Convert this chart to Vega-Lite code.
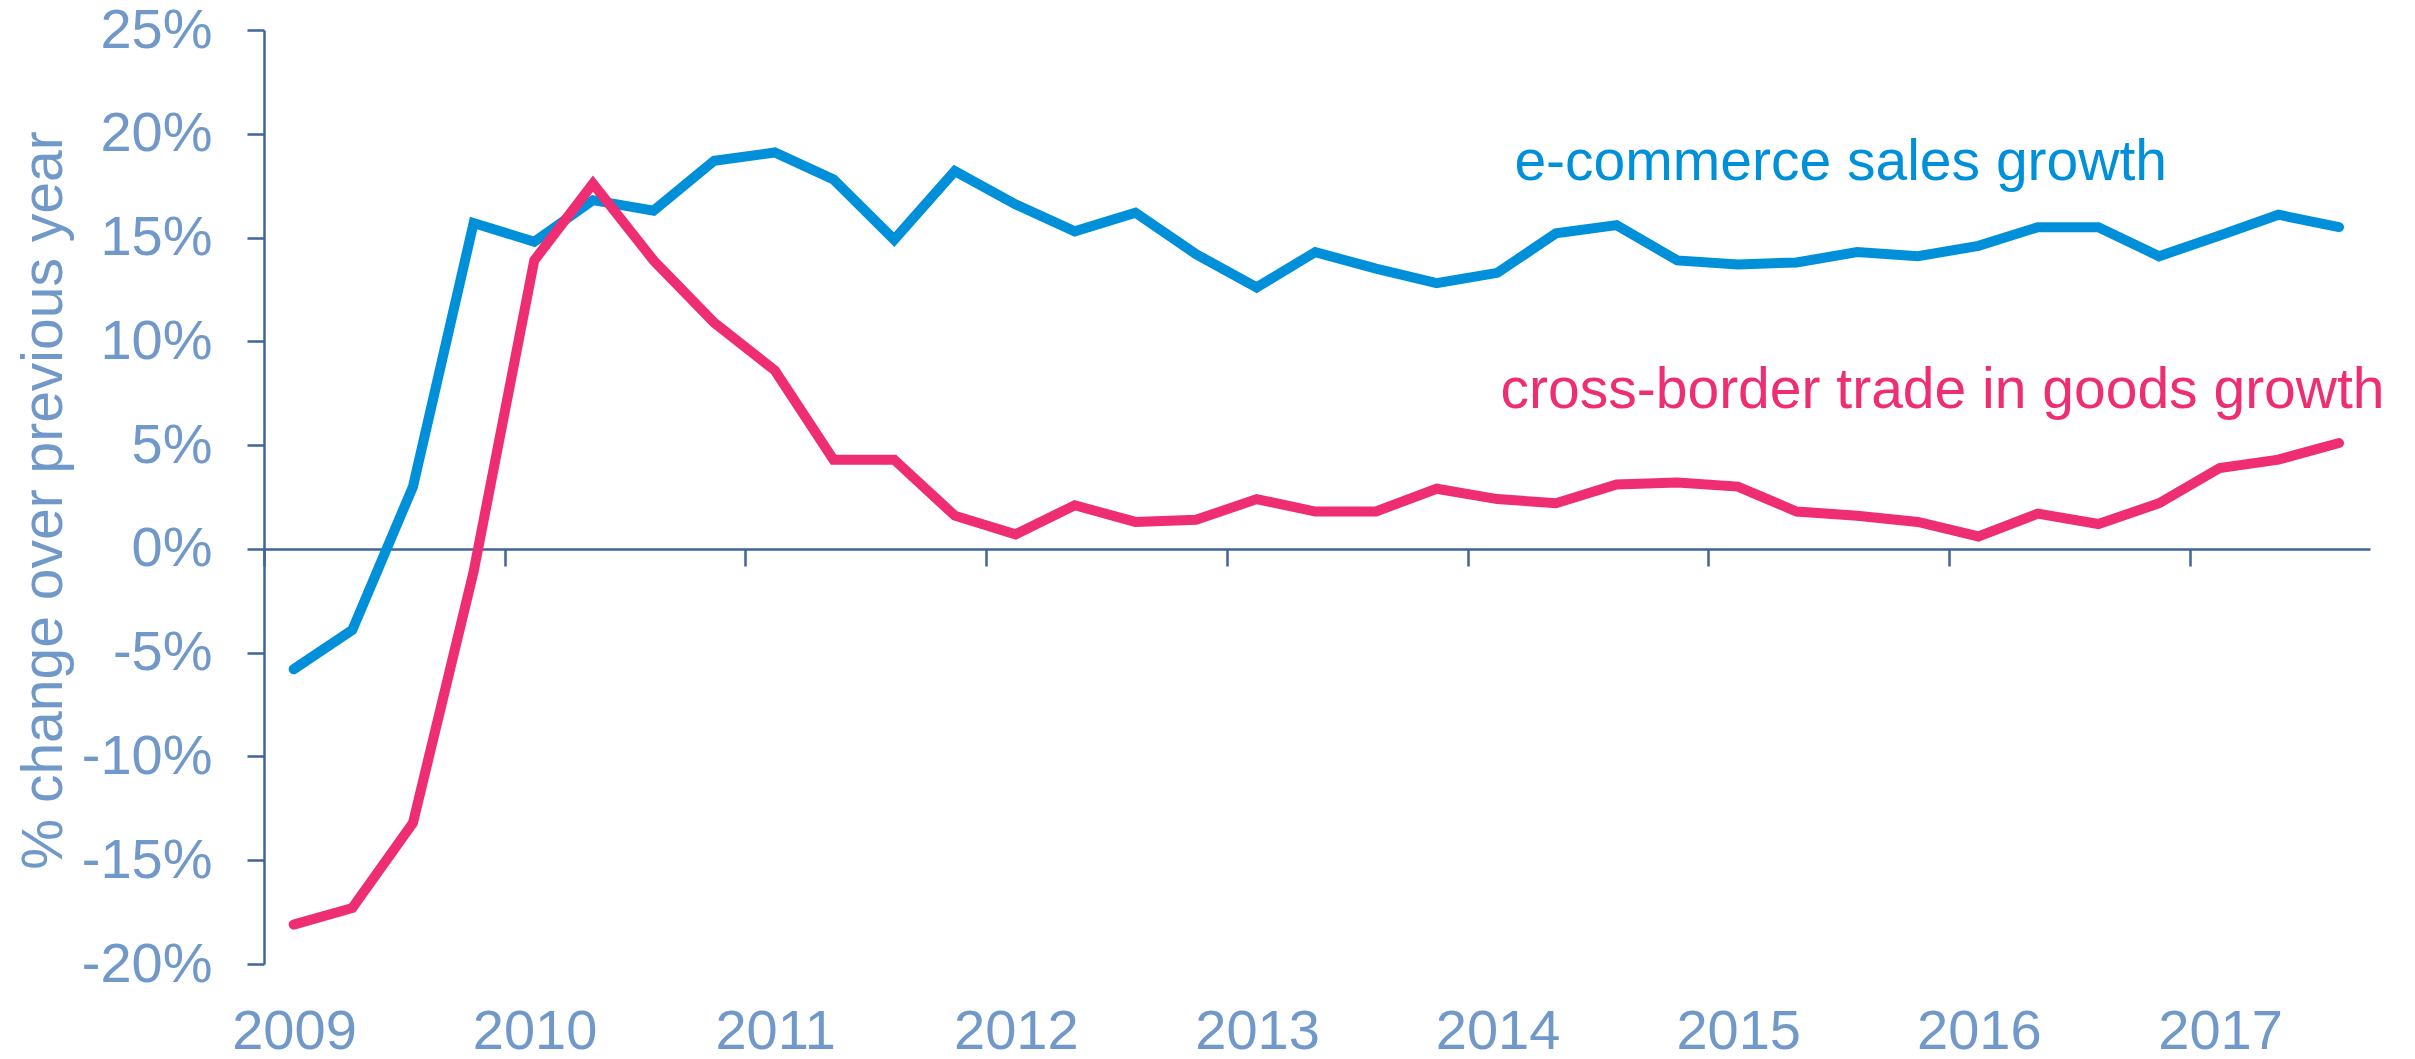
{
  "$schema": "https://vega.github.io/schema/vega-lite/v6.json",
  "width": 2106,
  "height": 934,
  "autosize": {"type": "none"},
  "padding": {"left": 264, "top": 30, "right": 45, "bottom": 95},
  "background": "white",
  "config": {"view": {"stroke": null}, "font": "Liberation Sans"},
  "datasets": {
    "series": [
      {"date": "2009-02-15", "series": "e-commerce sales growth", "value": -5.8},
      {"date": "2009-05-15", "series": "e-commerce sales growth", "value": -3.9},
      {"date": "2009-08-15", "series": "e-commerce sales growth", "value": 3.0},
      {"date": "2009-11-15", "series": "e-commerce sales growth", "value": 15.7},
      {"date": "2010-02-15", "series": "e-commerce sales growth", "value": 14.8},
      {"date": "2010-05-15", "series": "e-commerce sales growth", "value": 16.8},
      {"date": "2010-08-15", "series": "e-commerce sales growth", "value": 16.3},
      {"date": "2010-11-15", "series": "e-commerce sales growth", "value": 18.7},
      {"date": "2011-02-15", "series": "e-commerce sales growth", "value": 19.1},
      {"date": "2011-05-15", "series": "e-commerce sales growth", "value": 17.8},
      {"date": "2011-08-15", "series": "e-commerce sales growth", "value": 14.9},
      {"date": "2011-11-15", "series": "e-commerce sales growth", "value": 18.2},
      {"date": "2012-02-15", "series": "e-commerce sales growth", "value": 16.6},
      {"date": "2012-05-15", "series": "e-commerce sales growth", "value": 15.3},
      {"date": "2012-08-15", "series": "e-commerce sales growth", "value": 16.2},
      {"date": "2012-11-15", "series": "e-commerce sales growth", "value": 14.2},
      {"date": "2013-02-15", "series": "e-commerce sales growth", "value": 12.6},
      {"date": "2013-05-15", "series": "e-commerce sales growth", "value": 14.3},
      {"date": "2013-08-15", "series": "e-commerce sales growth", "value": 13.5},
      {"date": "2013-11-15", "series": "e-commerce sales growth", "value": 12.8},
      {"date": "2014-02-15", "series": "e-commerce sales growth", "value": 13.3},
      {"date": "2014-05-15", "series": "e-commerce sales growth", "value": 15.2},
      {"date": "2014-08-15", "series": "e-commerce sales growth", "value": 15.6},
      {"date": "2014-11-15", "series": "e-commerce sales growth", "value": 13.9},
      {"date": "2015-02-15", "series": "e-commerce sales growth", "value": 13.7},
      {"date": "2015-05-15", "series": "e-commerce sales growth", "value": 13.8},
      {"date": "2015-08-15", "series": "e-commerce sales growth", "value": 14.3},
      {"date": "2015-11-15", "series": "e-commerce sales growth", "value": 14.1},
      {"date": "2016-02-15", "series": "e-commerce sales growth", "value": 14.6},
      {"date": "2016-05-15", "series": "e-commerce sales growth", "value": 15.5},
      {"date": "2016-08-15", "series": "e-commerce sales growth", "value": 15.5},
      {"date": "2016-11-15", "series": "e-commerce sales growth", "value": 14.1},
      {"date": "2017-02-15", "series": "e-commerce sales growth", "value": 15.1},
      {"date": "2017-05-15", "series": "e-commerce sales growth", "value": 16.1},
      {"date": "2017-08-15", "series": "e-commerce sales growth", "value": 15.5},
      {"date": "2009-02-15", "series": "cross-border trade in goods growth", "value": -18.1},
      {"date": "2009-05-15", "series": "cross-border trade in goods growth", "value": -17.3},
      {"date": "2009-08-15", "series": "cross-border trade in goods growth", "value": -13.2},
      {"date": "2009-11-15", "series": "cross-border trade in goods growth", "value": -1.1},
      {"date": "2010-02-15", "series": "cross-border trade in goods growth", "value": 13.9},
      {"date": "2010-05-15", "series": "cross-border trade in goods growth", "value": 17.6},
      {"date": "2010-08-15", "series": "cross-border trade in goods growth", "value": 13.9},
      {"date": "2010-11-15", "series": "cross-border trade in goods growth", "value": 10.9},
      {"date": "2011-02-15", "series": "cross-border trade in goods growth", "value": 8.6},
      {"date": "2011-05-15", "series": "cross-border trade in goods growth", "value": 4.3},
      {"date": "2011-08-15", "series": "cross-border trade in goods growth", "value": 4.3},
      {"date": "2011-11-15", "series": "cross-border trade in goods growth", "value": 1.6},
      {"date": "2012-02-15", "series": "cross-border trade in goods growth", "value": 0.7},
      {"date": "2012-05-15", "series": "cross-border trade in goods growth", "value": 2.1},
      {"date": "2012-08-15", "series": "cross-border trade in goods growth", "value": 1.3},
      {"date": "2012-11-15", "series": "cross-border trade in goods growth", "value": 1.4},
      {"date": "2013-02-15", "series": "cross-border trade in goods growth", "value": 2.4},
      {"date": "2013-05-15", "series": "cross-border trade in goods growth", "value": 1.8},
      {"date": "2013-08-15", "series": "cross-border trade in goods growth", "value": 1.8},
      {"date": "2013-11-15", "series": "cross-border trade in goods growth", "value": 2.9},
      {"date": "2014-02-15", "series": "cross-border trade in goods growth", "value": 2.4},
      {"date": "2014-05-15", "series": "cross-border trade in goods growth", "value": 2.2},
      {"date": "2014-08-15", "series": "cross-border trade in goods growth", "value": 3.1},
      {"date": "2014-11-15", "series": "cross-border trade in goods growth", "value": 3.2},
      {"date": "2015-02-15", "series": "cross-border trade in goods growth", "value": 3.0},
      {"date": "2015-05-15", "series": "cross-border trade in goods growth", "value": 1.8},
      {"date": "2015-08-15", "series": "cross-border trade in goods growth", "value": 1.6},
      {"date": "2015-11-15", "series": "cross-border trade in goods growth", "value": 1.3},
      {"date": "2016-02-15", "series": "cross-border trade in goods growth", "value": 0.6},
      {"date": "2016-05-15", "series": "cross-border trade in goods growth", "value": 1.7},
      {"date": "2016-08-15", "series": "cross-border trade in goods growth", "value": 1.2},
      {"date": "2016-11-15", "series": "cross-border trade in goods growth", "value": 2.2},
      {"date": "2017-02-15", "series": "cross-border trade in goods growth", "value": 3.9},
      {"date": "2017-05-15", "series": "cross-border trade in goods growth", "value": 4.3},
      {"date": "2017-08-15", "series": "cross-border trade in goods growth", "value": 5.1}
    ],
    "labels": [
      {"date": "2014-03-13", "series": "e-commerce sales growth", "value": 17.76},
      {"date": "2014-02-20", "series": "cross-border trade in goods growth", "value": 6.8}
    ]
  },
  "layer": [
    {
      "data": {"name": "series"},
      "mark": {"type": "line", "strokeWidth": 10, "strokeCap": "round", "strokeJoin": "miter"},
      "encoding": {
        "x": {
          "field": "date",
          "type": "temporal",
          "scale": {
            "type": "utc",
            "domain": [
              {"year": 2009, "month": 1, "date": 1, "utc": true},
              {"year": 2017, "month": 10, "date": 1, "utc": true}
            ]
          },
          "axis": {
            "values": [
              {"year": 2009, "month": 1, "date": 1, "utc": true},
              {"year": 2010, "month": 1, "date": 1, "utc": true},
              {"year": 2011, "month": 1, "date": 1, "utc": true},
              {"year": 2012, "month": 1, "date": 1, "utc": true},
              {"year": 2013, "month": 1, "date": 1, "utc": true},
              {"year": 2014, "month": 1, "date": 1, "utc": true},
              {"year": 2015, "month": 1, "date": 1, "utc": true},
              {"year": 2016, "month": 1, "date": 1, "utc": true},
              {"year": 2017, "month": 1, "date": 1, "utc": true}
            ],
            "format": "%Y",
            "formatType": "utc",
            "title": null,
            "grid": false,
            "offset": -415,
            "tickSize": 17,
            "tickWidth": 2.5,
            "tickColor": "#41659A",
            "domainColor": "#41659A",
            "domainWidth": 2.5,
            "labelPadding": 438,
            "labelOffset": 30,
            "labelFlush": false,
            "labelOverlap": false,
            "labelFontSize": 56,
            "labelFont": "Liberation Sans",
            "labelColor": "#7098C9"
          }
        },
        "y": {
          "field": "value",
          "type": "quantitative",
          "scale": {"domain": [-20, 25], "nice": false, "zero": false},
          "axis": {
            "values": [-20, -15, -10, -5, 0, 5, 10, 15, 20, 25],
            "labelExpr": "datum.value + '%'",
            "grid": false,
            "tickSize": 17,
            "tickWidth": 2.5,
            "tickColor": "#41659A",
            "domainColor": "#41659A",
            "domainWidth": 2.5,
            "labelPadding": 35,
            "labelFlush": false,
            "labelOverlap": false,
            "labelFontSize": 56,
            "labelFont": "Liberation Sans",
            "labelColor": "#7098C9",
            "title": "% change over previous year",
            "titleFont": "Liberation Sans",
            "titleFontSize": 57,
            "titleFontWeight": "normal",
            "titleColor": "#7098C9",
            "titleAngle": 270,
            "titleAlign": "center",
            "titleBaseline": "alphabetic",
            "titleX": -203,
            "titleY": 470
          }
        },
        "color": {
          "field": "series",
          "type": "nominal",
          "scale": {
            "domain": ["cross-border trade in goods growth", "e-commerce sales growth"],
            "range": ["#EE2D72", "#0090DA"]
          },
          "legend": null
        }
      }
    },
    {
      "data": {"name": "labels"},
      "mark": {"type": "text", "align": "left", "baseline": "alphabetic", "fontSize": 57, "font": "Liberation Sans"},
      "encoding": {
        "x": {"field": "date", "type": "temporal"},
        "y": {"field": "value", "type": "quantitative"},
        "text": {"field": "series"},
        "color": {"field": "series", "type": "nominal", "legend": null}
      }
    }
  ]
}
